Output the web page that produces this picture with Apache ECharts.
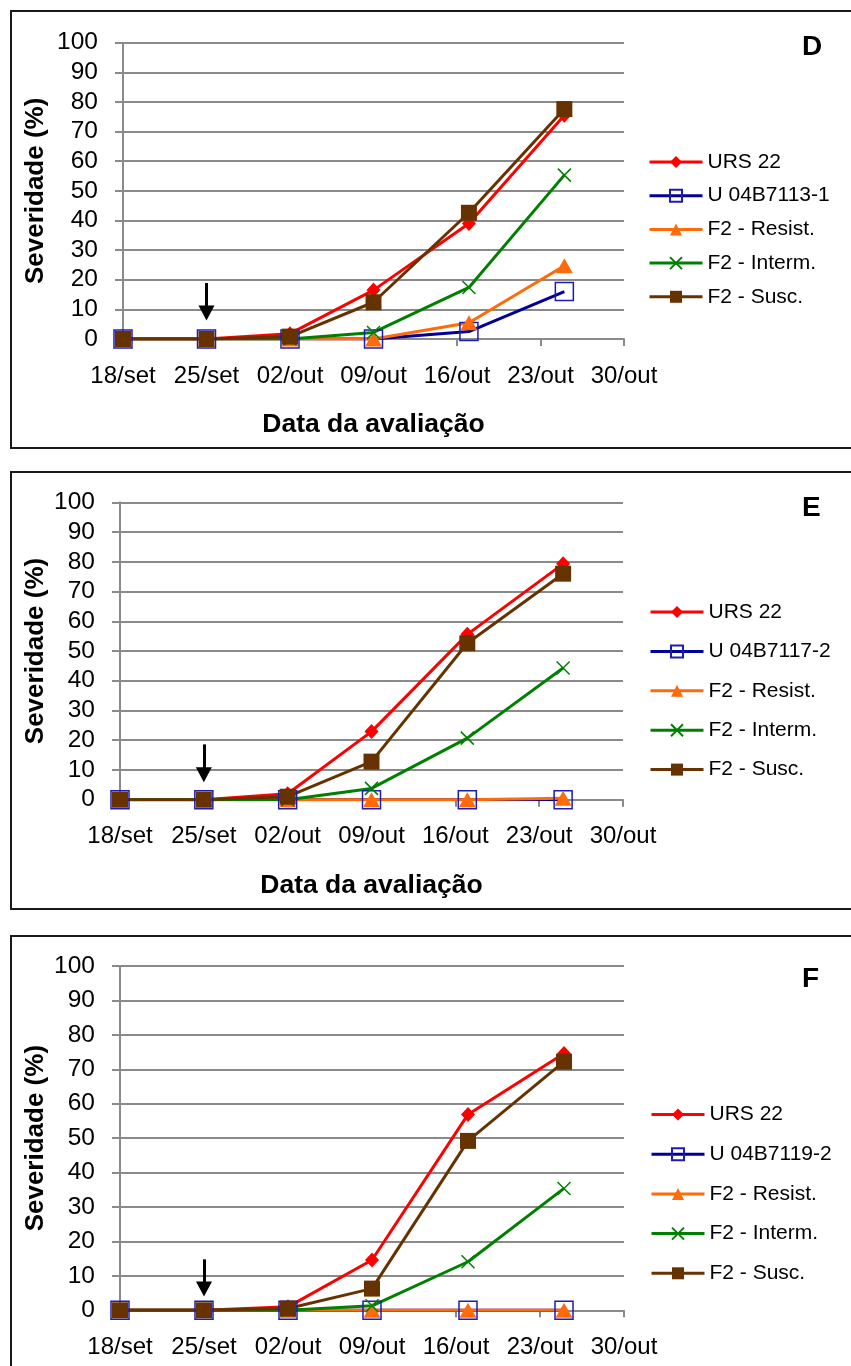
<!DOCTYPE html>
<html>
<head>
<meta charset="utf-8">
<script src="https://cdn.jsdelivr.net/npm/echarts@6/dist/echarts.min.js"></script>
<style>
    body { margin: 0; background: #fff; }
    #page { position: relative; width: 851px; height: 1366px; overflow: hidden; }
    .box { position: absolute; border: 2px solid #1a1a1a; left: 10px; width: 900px; }
    .chart { position: absolute; left: 0; width: 851px; }
</style>
</head>
<body>
<div id="page">
    <div class="box" style="top: 10px; height: 435px;"></div>
    <div class="box" style="top: 471px; height: 435px;"></div>
    <div class="box" style="top: 935px; height: 500px;"></div>
    <div id="chartD" class="chart" style="top: 0; height: 460px;"></div>
    <div id="chartE" class="chart" style="top: 460px; height: 460px;"></div>
    <div id="chartF" class="chart" style="top: 920px; height: 446px;"></div>
</div>
<script>
    // dias desde 18/set
    const days = [0, 7, 14, 21, 29, 37];
    const dateLabels = ['18/set', '25/set', '02/out', '09/out', '16/out', '23/out', '30/out'];

    // painel D
    const namesD = ['URS 22', 'U 04B7113-1', 'F2 - Resist.', 'F2 - Interm.', 'F2 - Susc.'];
    const ursD = [0, 0, 1.8, 16.5, 39, 75.5];
    const uD = [0, 0, 0, 0, 2.5, 16];
    const resD = [0, 0, 0, 0, 5.5, 24.7];
    const intD = [0, 0, 0, 2.2, 17.4, 55.3];
    const susD = [0, 0, 0.8, 12.4, 42.6, 77.6];

    // painel E
    const namesE = ['URS 22', 'U 04B7117-2', 'F2 - Resist.', 'F2 - Interm.', 'F2 - Susc.'];
    const ursE = [0, 0, 2, 22.9, 55.6, 79.3];
    const uE = [0, 0, 0, 0, 0, 0];
    const resE = [0, 0, 0, 0, 0, 0.5];
    const intE = [0, 0, 0, 3.8, 20.7, 44.3];
    const susE = [0, 0, 1, 12.8, 52.6, 76];

    // painel F
    const namesF = ['URS 22', 'U 04B7119-2', 'F2 - Resist.', 'F2 - Interm.', 'F2 - Susc.'];
    const ursF = [0, 0, 1, 14.6, 56.9, 74.6];
    const uF = [0, 0, 0, 0, 0, 0];
    const resF = [0, 0, 0, 0, 0, 0];
    const intF = [0, 0, 0, 1.3, 14.1, 35.4];
    const susF = [0, 0, 0.5, 6.3, 49.2, 72.2];

    // seta da inoculação: [dia, início, ponta]
    const arrowD = [7, 18.9, 8.8];
    const arrowE = [7, 18.6, 8.4];
    const arrowF = [7, 14.8, 6.2];

    const FONT = '"Liberation Sans", Arial, sans-serif';
    const colors = ['#ff0000', '#000099', '#ff6a0a', '#008000', '#663300'];

    function pairs(vals) {
        return days.map(function (d, i) { return [d, vals[i]]; });
    }

    function drawPanel(id, letter, names, values, arrow, layout) {
        const chart = echarts.init(document.getElementById(id));
        const styles = [
            { symbol: 'diamond', symbolSize: [14, 15], itemStyle: { color: colors[0] } },
            { symbol: 'rect', symbolSize: 18, itemStyle: { color: 'transparent', borderColor: '#1c1cb4', borderWidth: 1.5 } },
            { symbol: 'triangle', symbolSize: [17, 15], itemStyle: { color: colors[2] } },
            { symbol: 'path://M0,0L10,10M10,0L0,10', symbolSize: 13, itemStyle: { color: colors[3], borderColor: colors[3], borderWidth: 1.5 } },
            { symbol: 'rect', symbolSize: 16, itemStyle: { color: colors[4] } }
        ];
        const series = names.map(function (name, i) {
            const s = {
                name: name,
                type: 'line',
                data: pairs(values[i]),
                symbol: styles[i].symbol,
                symbolSize: styles[i].symbolSize,
                showAllSymbol: true,
                itemStyle: styles[i].itemStyle,
                lineStyle: { color: colors[i], width: 3 },
                emphasis: { disabled: true }
            };
            if (i === 0) {
                s.markLine = {
                    silent: true,
                    symbol: ['none', 'triangle'],
                    symbolSize: [16, 15],
                    label: { show: false },
                    lineStyle: { color: '#000', width: 3, type: 'solid' },
                    data: [[{ coord: [arrow[0], arrow[1]] }, { coord: [arrow[0], arrow[2]] }]]
                };
            }
            return s;
        });
        const grid = Object.assign({ outerBoundsMode: 'none', containLabel: false }, layout.grid);
        chart.setOption({
            animation: false,
            textStyle: { fontFamily: FONT },
            title: {
                text: letter,
                left: 797,
                top: layout.letterTop,
                textStyle: { fontSize: 28, fontWeight: 'bold', color: '#000', fontFamily: FONT }
            },
            legend: {
                orient: 'vertical',
                left: layout.legendLeft,
                top: layout.legendTop,
                itemWidth: 53,
                itemHeight: 15,
                itemGap: layout.legendGap,
                lineStyle: { width: 3 },
                textStyle: { fontSize: 21, color: '#000', fontFamily: FONT }
            },
            grid: grid,
            xAxis: {
                type: 'value',
                min: 0,
                max: 42,
                interval: 7,
                name: 'Data da avaliação',
                nameLocation: 'middle',
                nameGap: 72,
                nameMoveOverlap: false,
                nameTextStyle: { fontSize: 26.5, fontWeight: 'bold', color: '#000' },
                axisLine: { lineStyle: { color: '#8a8a8a', width: 2 } },
                axisTick: { show: true, length: 7, lineStyle: { color: '#8a8a8a', width: 2 } },
                axisLabel: {
                    fontSize: 24,
                    color: '#000',
                    margin: 25,
                    formatter: function (v) { return dateLabels[Math.round(v / 7)]; }
                },
                splitLine: { show: false }
            },
            yAxis: {
                type: 'value',
                min: 0,
                max: 100,
                interval: 10,
                name: 'Severidade (%)',
                nameLocation: 'middle',
                nameGap: layout.yNameGap,
                nameMoveOverlap: false,
                nameTextStyle: { fontSize: 26, fontWeight: 'bold', color: '#000' },
                axisLine: { show: true, lineStyle: { color: '#8a8a8a', width: 2 } },
                axisTick: { show: true, length: 8, lineStyle: { color: '#8a8a8a', width: 2 } },
                axisLabel: { fontSize: 24.5, color: '#000', margin: 25 },
                splitLine: { lineStyle: { color: '#8a8a8a', width: 2 } }
            },
            series: series
        });
    }

    drawPanel('chartD', 'D', namesD, [ursD, uD, resD, intD, susD], arrowD, {
        grid: { left: 123, right: 227, top: 42.7, bottom: 121 },
        legendLeft: 643, legendTop: 146.5, legendGap: 12.7, letterTop: 28, yNameGap: 74
    });
    drawPanel('chartE', 'E', namesE, [ursE, uE, resE, intE, susE], arrowE, {
        grid: { left: 120, right: 228, top: 42.3, bottom: 120.3 },
        legendLeft: 644, legendTop: 136.5, legendGap: 18.4, letterTop: 29, yNameGap: 71
    });
    drawPanel('chartF', 'F', namesF, [ursF, uF, resF, intF, susF], arrowF, {
        grid: { left: 120, right: 227, top: 46, bottom: 55.7 },
        legendLeft: 645, legendTop: 179, legendGap: 18.7, letterTop: 40, yNameGap: 71
    });
</script>
</body>
</html>
